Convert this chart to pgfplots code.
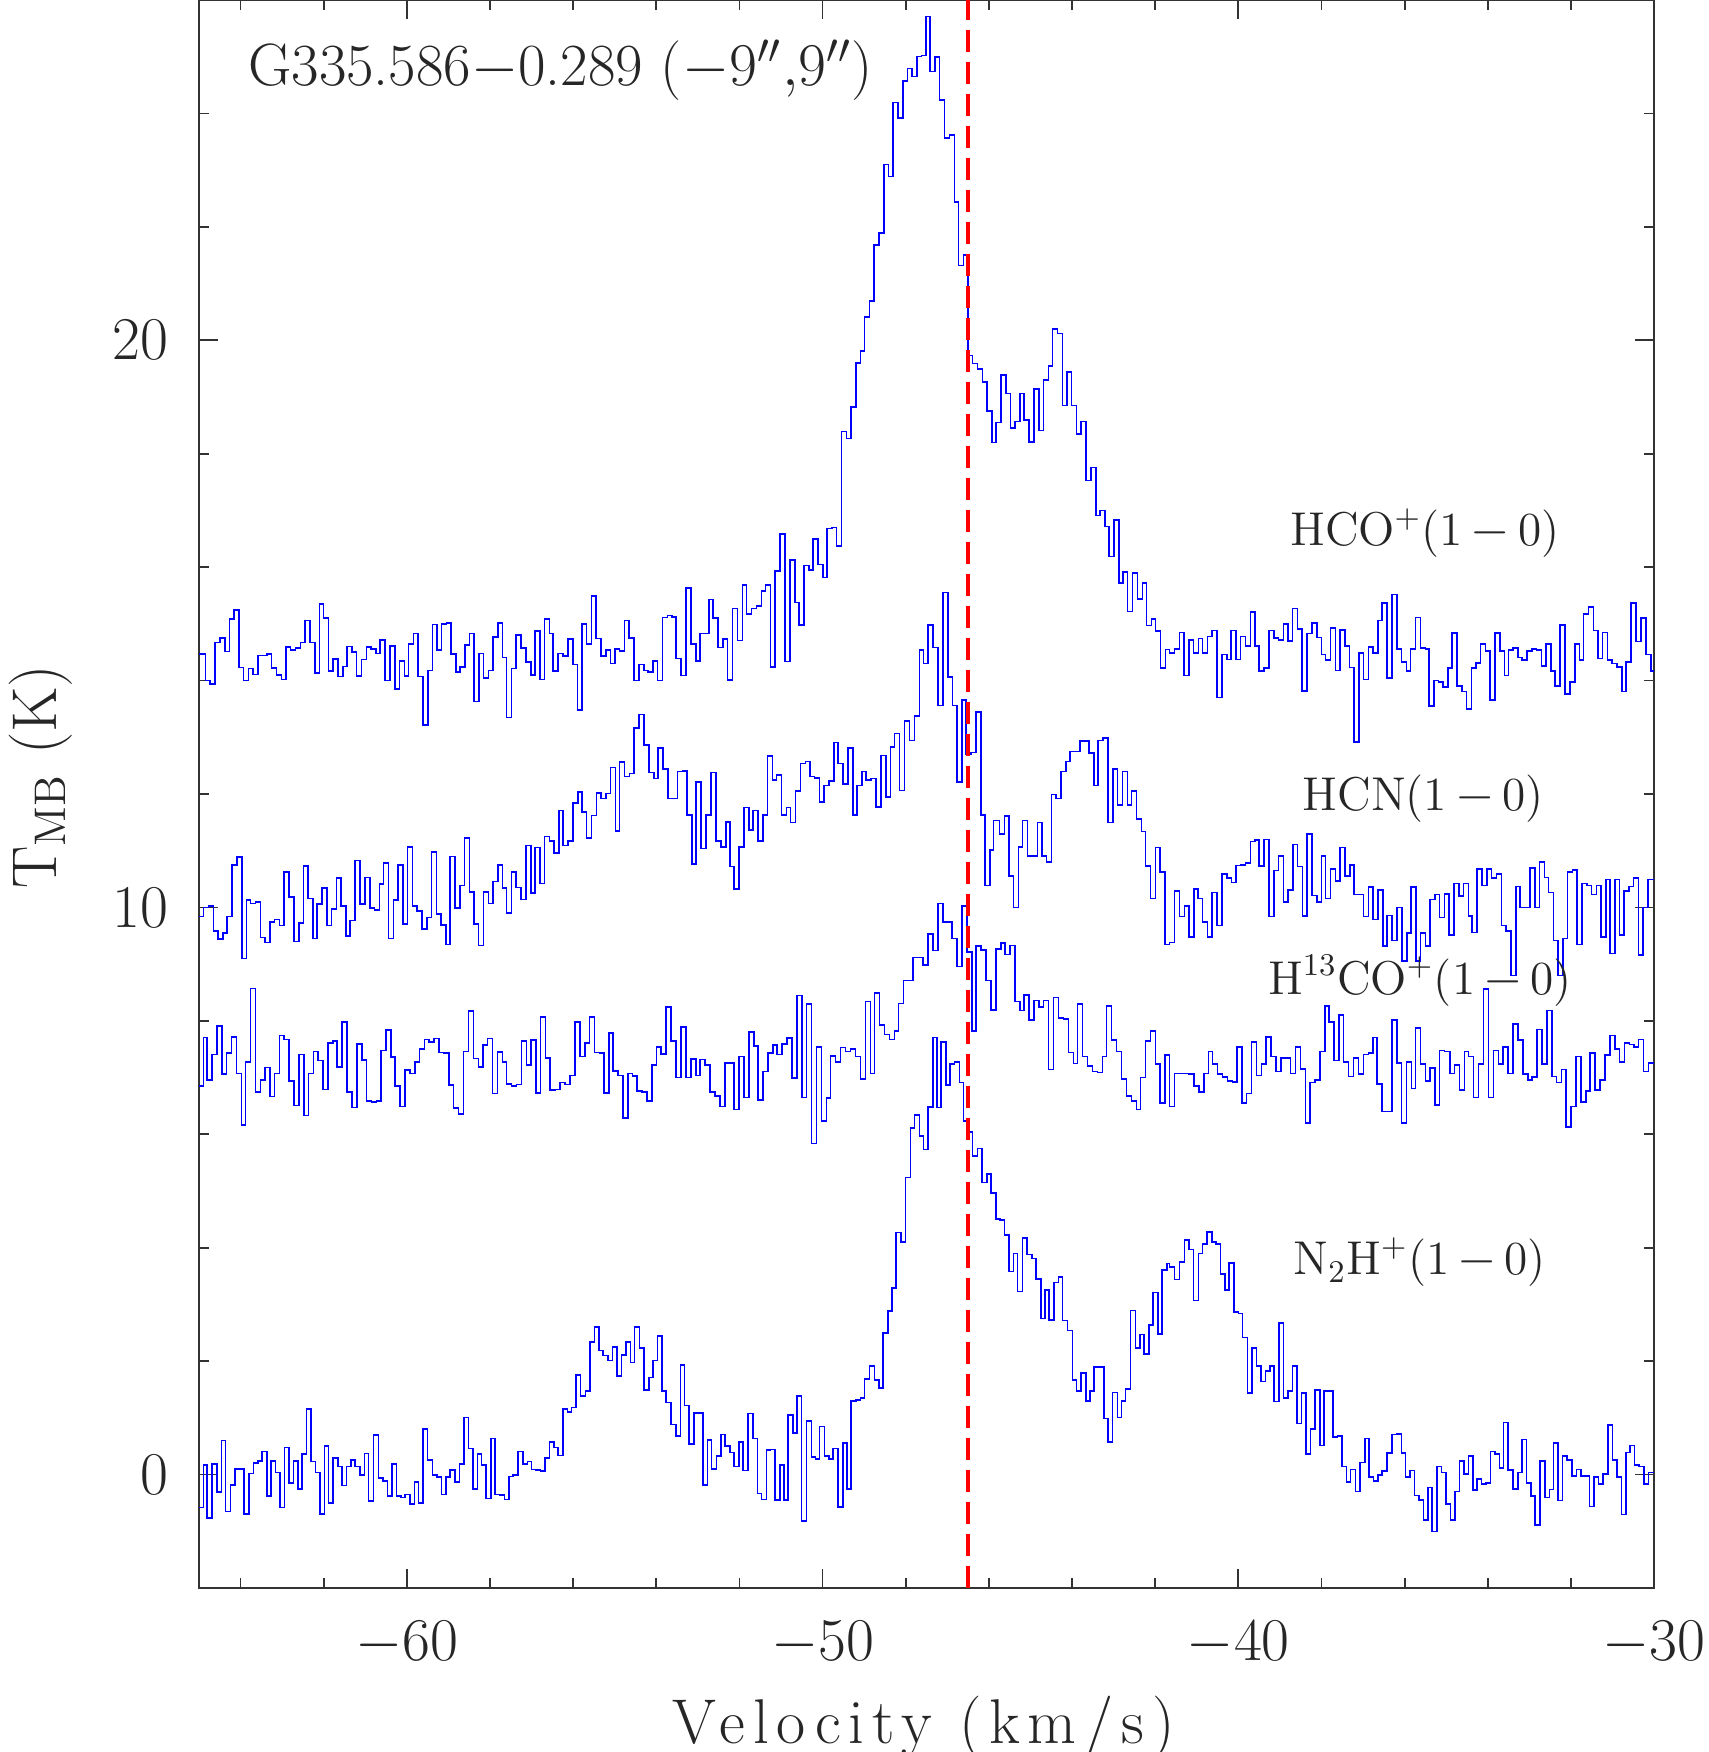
\documentclass[border=0pt]{standalone}
\usepackage{fontspec}
\usepackage{pgfplots}
\pgfplotsset{compat=1.18}
\newfontfamily\widefont[LetterSpace=12.5]{Latin Modern Roman}
\definecolor{specblue}{RGB}{0,0,255}
\begin{document}
\begin{tikzpicture}
\begin{axis}[
  scale only axis, width=14.556cm, height=15.885cm,
  xmin=-65, xmax=-30, ymin=-2, ymax=26,
  xtick={-60,-50,-40,-30}, minor xtick={-64,-62,...,-32},
  ytick={0,10,20}, minor ytick={-2,0,...,26},
  tick pos=both, tick align=inside,
  major tick length=0.19cm, minor tick length=0.1cm,
  axis line style={black!80, line width=0.6pt},
  every tick/.style={black!80, line width=0.5pt},
  tick label style={font=\fontsize{17}{20}\selectfont, text=black!85},
  xticklabel shift=0.21cm, yticklabel shift=0.185cm,
  xlabel={{\widefont Velocity (km/s)}},
  ylabel={T$_{\mathrm{MB}}$ (K)},
  xlabel style={at={(axis description cs:0.498,-0.0976)}, anchor=base, font=\fontsize{18}{21}\selectfont, text=black!85},
  ylabel style={at={(axis description cs:-0.0982,0.511)}, anchor=base, font=\fontsize{18}{21}\selectfont, text=black!85},
]
% HCO+(1-0)
\addplot[const plot, specblue, line width=0.45pt] table {
v T
-65.00 14.47
-64.84 14.00
-64.73 13.94
-64.61 14.67
-64.49 14.75
-64.38 14.51
-64.26 15.09
-64.16 15.24
-64.04 14.23
-63.93 14.00
-63.81 14.21
-63.70 14.11
-63.58 14.44
-63.36 14.47
-63.25 14.22
-63.13 14.10
-63.01 14.02
-62.90 14.59
-62.80 14.54
-62.68 14.57
-62.56 14.67
-62.45 15.06
-62.33 14.67
-62.21 14.13
-62.10 15.35
-62.00 15.10
-61.88 14.17
-61.77 14.38
-61.65 14.07
-61.53 14.25
-61.44 14.60
-61.32 14.50
-61.21 14.08
-61.09 14.37
-60.97 14.59
-60.86 14.56
-60.74 14.48
-60.64 14.72
-60.52 14.00
-60.41 14.61
-60.29 13.85
-60.18 14.35
-60.06 14.08
-59.96 14.64
-59.84 14.83
-59.73 14.07
-59.61 13.22
-59.49 14.18
-59.38 14.99
-59.28 14.54
-59.17 15.00
-59.05 15.02
-58.94 14.47
-58.82 14.15
-58.72 14.24
-58.60 14.63
-58.49 14.83
-58.38 13.63
-58.26 14.48
-58.16 14.05
-58.04 14.18
-57.93 14.77
-57.81 15.02
-57.70 14.41
-57.60 13.35
-57.48 14.21
-57.37 14.80
-57.25 14.57
-57.14 14.33
-57.02 14.10
-56.92 14.87
-56.80 14.02
-56.69 15.09
-56.57 14.83
-56.48 14.17
-56.36 14.48
-56.24 14.43
-56.12 14.73
-56.01 14.28
-55.90 13.48
-55.78 15.00
-55.68 14.65
-55.56 15.49
-55.45 14.74
-55.33 14.43
-55.21 14.54
-55.10 14.30
-55.00 14.56
-54.88 14.52
-54.76 15.06
-54.65 14.75
-54.53 14.00
-54.42 14.28
-54.30 14.18
-54.20 14.15
-54.08 14.35
-53.97 14.00
-53.85 15.11
-53.73 15.15
-53.62 15.12
-53.52 14.39
-53.40 14.09
-53.28 15.63
-53.17 14.65
-53.05 14.35
-52.95 14.83
-52.73 15.43
-52.63 15.10
-52.51 14.58
-52.39 14.73
-52.29 14.01
-52.17 15.27
-52.05 14.71
-51.93 15.69
-51.83 15.17
-51.71 15.27
-51.59 15.31
-51.47 15.58
-51.37 15.69
-51.25 14.24
-51.15 15.93
-51.03 16.58
-50.91 14.34
-50.79 16.13
-50.67 15.38
-50.57 14.98
-50.45 16.03
-50.33 15.95
-50.23 16.50
-50.11 16.05
-49.99 15.82
-49.89 16.68
-49.77 16.70
-49.67 16.37
-49.55 18.39
-49.43 18.27
-49.31 18.82
-49.19 19.60
-49.09 19.81
-48.99 20.41
-48.87 20.69
-48.76 21.68
-48.64 21.89
-48.53 23.10
-48.41 22.89
-48.31 24.19
-48.19 23.92
-48.07 24.57
-47.96 24.79
-47.85 24.65
-47.73 25.00
-47.62 25.02
-47.51 25.71
-47.41 24.74
-47.30 24.99
-47.19 24.24
-47.07 23.57
-46.95 23.62
-46.83 22.44
-46.73 21.32
-46.61 21.50
-46.50 19.73
-46.39 19.59
-46.27 19.49
-46.15 19.26
-46.05 18.75
-45.93 18.20
-45.83 18.55
-45.71 19.39
-45.59 19.06
-45.48 18.45
-45.37 18.57
-45.25 19.06
-45.15 18.59
-45.03 18.21
-44.91 19.14
-44.79 18.41
-44.69 19.30
-44.57 19.55
-44.47 20.20
-44.35 20.12
-44.23 18.85
-44.12 19.44
-44.01 18.85
-43.89 18.35
-43.79 18.57
-43.67 17.53
-43.55 17.76
-43.43 16.91
-43.33 17.00
-43.21 16.72
-43.11 16.19
-42.99 16.83
-42.87 15.72
-42.77 15.91
-42.67 15.22
-42.55 15.90
-42.43 15.44
-42.31 15.72
-42.21 14.97
-42.09 15.09
-41.99 14.87
-41.87 14.22
-41.75 14.55
-41.66 14.49
-41.54 14.56
-41.42 14.85
-41.31 14.09
-41.19 14.72
-41.08 14.49
-40.96 14.74
-40.86 14.49
-40.74 14.78
-40.63 14.88
-40.51 13.70
-40.39 14.46
-40.28 14.37
-40.18 14.88
-40.06 14.37
-39.95 14.78
-39.83 14.61
-39.71 15.21
-39.60 14.61
-39.50 14.17
-39.38 14.22
-39.26 14.88
-39.15 14.75
-39.03 14.72
-38.91 15.00
-38.80 14.70
-38.70 15.27
-38.58 14.91
-38.47 13.82
-38.35 14.83
-38.23 15.02
-38.11 14.76
-38.00 14.46
-37.90 14.36
-37.78 14.93
-37.66 14.18
-37.55 14.89
-37.43 14.61
-37.33 14.23
-37.22 12.92
-37.10 14.49
-36.99 14.02
-36.87 14.59
-36.76 14.49
-36.64 15.06
-36.54 15.37
-36.42 14.05
-36.31 15.52
-36.19 14.56
-36.08 14.33
-35.96 14.17
-35.86 14.56
-35.74 15.11
-35.62 14.57
-35.50 14.56
-35.42 13.55
-35.30 14.00
-35.19 13.98
-35.08 13.89
-34.96 14.22
-34.86 14.84
-34.74 13.90
-34.62 13.81
-34.51 13.50
-34.39 14.22
-34.28 14.31
-34.18 14.64
-34.06 14.52
-33.95 13.66
-33.83 14.84
-33.71 14.52
-33.60 14.09
-33.50 14.54
-33.39 14.57
-33.27 14.41
-33.18 14.36
-33.06 14.52
-32.94 14.56
-32.83 14.54
-32.71 14.26
-32.60 14.65
-32.48 14.17
-32.38 13.90
-32.26 14.98
-32.14 13.76
-32.03 13.97
-31.91 14.65
-31.80 14.36
-31.70 15.17
-31.58 15.30
-31.46 14.88
-31.35 14.39
-31.24 14.85
-31.12 14.36
-31.02 14.30
-30.90 14.24
-30.78 13.81
-30.67 14.33
-30.55 15.37
-30.44 14.69
-30.32 15.10
-30.20 14.46
-30.08 14.17
-30.00 14.17
};
% HCN(1-0)
\addplot[const plot, specblue, line width=0.45pt] table {
v T
-65.00 9.84
-64.89 10.00
-64.77 10.03
-64.65 9.58
-64.54 9.44
-64.42 9.55
-64.32 9.84
-64.20 10.75
-64.09 10.89
-63.97 9.10
-63.86 10.13
-63.76 10.07
-63.64 10.10
-63.52 9.47
-63.41 9.38
-63.29 9.74
-63.18 9.79
-63.06 9.68
-62.96 10.62
-62.84 10.18
-62.72 9.40
-62.60 9.73
-62.49 10.73
-62.38 10.16
-62.26 9.45
-62.16 10.06
-62.04 10.34
-61.92 9.68
-61.81 9.97
-61.69 10.52
-61.58 10.03
-61.46 9.50
-61.36 9.77
-61.24 10.83
-61.12 10.06
-61.01 10.53
-60.89 9.99
-60.78 9.95
-60.66 10.41
-60.56 10.78
-60.44 9.45
-60.32 10.13
-60.21 10.75
-60.09 9.71
-59.98 11.07
-59.86 10.03
-59.76 9.94
-59.64 9.62
-59.52 9.82
-59.41 10.98
-59.29 9.88
-59.18 9.69
-59.06 9.35
-58.96 10.90
-58.84 9.99
-58.72 10.39
-58.61 11.22
-58.49 10.27
-58.38 9.71
-58.28 9.33
-58.16 10.27
-58.04 10.07
-57.93 10.46
-57.81 10.75
-57.70 10.34
-57.60 9.90
-57.48 10.62
-57.37 10.35
-57.25 10.14
-57.14 11.09
-57.02 10.25
-56.92 11.06
-56.80 10.42
-56.69 11.25
-56.57 11.17
-56.46 10.96
-56.34 11.71
-56.24 11.09
-56.12 11.17
-56.01 11.84
-55.89 12.04
-55.78 11.68
-55.68 11.22
-55.56 11.62
-55.44 12.02
-55.33 11.92
-55.21 12.01
-55.10 12.47
-54.98 11.35
-54.88 12.56
-54.76 12.31
-54.64 12.36
-54.53 13.16
-54.41 13.40
-54.29 12.86
-54.18 12.38
-54.06 12.27
-53.96 12.81
-53.84 12.44
-53.72 11.92
-53.49 12.40
-53.37 12.41
-53.26 11.63
-53.14 10.77
-53.05 12.21
-52.93 11.04
-52.81 11.63
-52.69 12.38
-52.57 11.17
-52.45 11.07
-52.33 11.51
-52.23 10.72
-52.13 10.33
-52.01 11.07
-51.89 11.76
-51.77 11.37
-51.67 11.71
-51.55 11.17
-51.43 11.63
-51.33 12.67
-51.21 12.25
-51.11 12.34
-50.99 11.63
-50.87 11.76
-50.77 11.50
-50.65 12.05
-50.53 12.54
-50.41 12.57
-50.31 12.31
-50.19 12.28
-50.07 11.86
-49.97 12.15
-49.85 12.23
-49.73 12.91
-49.63 12.54
-49.51 12.18
-49.39 12.81
-49.27 11.63
-49.17 12.15
-49.05 12.40
-48.95 12.25
-48.83 12.27
-48.71 11.77
-48.59 12.68
-48.47 11.95
-48.37 12.83
-48.27 13.07
-48.15 12.06
-48.03 13.29
-47.91 12.94
-47.79 13.38
-47.67 14.54
-47.57 14.30
-47.47 14.98
-47.35 14.58
-47.23 13.56
-47.11 15.55
-46.99 14.06
-46.88 13.56
-46.77 12.21
-46.65 13.66
-46.55 12.70
-46.43 12.73
-46.31 13.45
-46.19 11.63
-46.09 10.39
-45.97 11.01
-45.89 11.53
-45.75 11.30
-45.63 11.61
-45.51 10.55
-45.41 10.00
-45.29 11.07
-45.19 11.53
-45.07 10.91
-44.83 11.50
-44.73 10.91
-44.61 10.80
-44.49 11.99
-44.39 11.92
-44.27 12.40
-44.15 12.57
-44.05 12.75
-43.81 12.93
-43.59 12.72
-43.47 12.15
-43.37 12.94
-43.25 12.99
-43.13 11.50
-43.01 12.44
-42.91 11.81
-42.79 12.40
-42.67 11.81
-42.57 12.05
-42.45 11.56
-42.33 11.34
-42.23 10.73
-42.11 10.16
-41.99 11.06
-41.89 10.62
-41.77 9.35
-41.66 9.38
-41.54 10.29
-41.42 9.84
-41.30 10.03
-41.19 9.48
-41.07 10.33
-40.97 10.16
-40.86 9.74
-40.74 9.48
-40.63 10.26
-40.51 9.68
-40.40 10.59
-40.28 10.52
-40.17 10.44
-40.06 10.74
-39.94 10.75
-39.83 10.78
-39.71 11.16
-39.60 11.19
-39.50 10.73
-39.38 11.20
-39.26 9.84
-39.15 10.65
-39.03 10.91
-38.91 10.10
-38.80 10.31
-38.68 11.11
-38.58 10.72
-38.46 9.85
-38.35 11.30
-38.23 10.21
-38.11 10.10
-38.00 10.91
-37.90 10.16
-37.78 10.68
-37.66 10.47
-37.56 11.06
-37.44 10.55
-37.32 10.75
-37.22 10.23
-36.99 9.84
-36.87 10.36
-36.76 9.79
-36.64 10.31
-36.52 9.32
-36.42 9.86
-36.30 9.42
-36.18 10.00
-36.06 9.06
-35.95 9.55
-35.85 10.36
-35.73 9.06
-35.62 9.55
-35.50 9.32
-35.39 10.14
-35.27 10.23
-35.16 9.82
-35.04 10.24
-34.94 9.51
-34.82 10.42
-34.70 10.20
-34.59 10.42
-34.47 9.85
-34.38 9.56
-34.26 10.68
-34.14 10.39
-34.02 10.68
-33.91 10.52
-33.79 10.59
-33.67 9.68
-33.56 9.58
-33.44 8.80
-33.32 10.37
-33.22 10.00
-32.98 10.70
-32.87 10.00
-32.76 10.80
-32.64 10.53
-32.54 10.26
-32.42 9.42
-32.31 8.80
-32.19 9.45
-32.08 10.62
-31.96 10.66
-31.86 9.35
-31.73 10.42
-31.61 10.39
-31.51 10.23
-31.39 10.39
-31.28 9.48
-31.16 10.49
-31.06 9.19
-30.94 10.49
-30.83 9.51
-30.72 10.29
-30.60 10.37
-30.50 10.52
-30.38 9.16
-30.27 10.00
-30.15 10.49
-30.00 10.49
};
% H13CO+(1-0)
\addplot[const plot, specblue, line width=0.45pt] table {
v T
-65.00 6.85
-64.89 7.71
-64.80 6.96
-64.68 7.41
-64.57 7.91
-64.45 7.06
-64.34 7.43
-64.22 7.72
-64.10 7.07
-63.98 6.16
-63.88 7.27
-63.76 8.57
-63.64 6.75
-63.52 6.96
-63.41 7.18
-63.29 6.67
-63.18 7.07
-63.06 7.74
-62.96 7.67
-62.84 6.94
-62.72 6.51
-62.60 7.41
-62.48 6.33
-62.36 7.07
-62.24 7.46
-62.13 7.30
-62.01 6.79
-61.89 7.61
-61.78 7.65
-61.68 7.19
-61.56 7.98
-61.44 6.75
-61.32 6.47
-61.20 7.59
-61.08 7.31
-60.97 6.59
-60.85 6.57
-60.73 6.59
-60.62 7.48
-60.50 7.84
-60.38 7.36
-60.28 6.85
-60.16 6.49
-60.04 7.13
-59.93 7.07
-59.81 7.27
-59.70 7.50
-59.58 7.67
-59.46 7.63
-59.34 7.69
-59.22 7.44
-59.10 7.43
-58.98 6.87
-58.88 6.46
-58.76 6.36
-58.64 7.46
-58.52 8.17
-58.40 7.34
-58.28 7.19
-58.17 7.57
-58.06 7.69
-57.94 6.72
-57.82 7.45
-57.70 7.28
-57.60 6.89
-57.48 6.85
-57.36 6.88
-57.24 7.65
-57.12 7.22
-57.01 7.66
-56.89 6.73
-56.78 8.07
-56.66 7.35
-56.56 6.78
-56.44 6.79
-56.32 6.91
-56.20 6.88
-56.08 7.04
-55.96 7.98
-55.84 7.37
-55.72 7.61
-55.61 8.07
-55.49 7.44
-55.37 7.43
-55.26 6.73
-55.14 7.79
-55.04 7.12
-54.92 7.04
-54.80 6.29
-54.68 7.07
-54.57 7.03
-54.46 6.76
-54.34 6.75
-54.22 6.59
-54.10 7.22
-54.00 7.54
-53.88 7.42
-53.76 8.24
-53.64 7.65
-53.52 7.00
-53.40 7.89
-53.28 7.00
-53.17 7.33
-53.05 7.04
-52.95 7.32
-52.83 7.22
-52.71 6.75
-52.59 6.68
-52.47 6.49
-52.35 7.26
-52.13 6.44
-52.01 7.37
-51.89 6.65
-51.77 7.80
-51.65 7.56
-51.55 6.60
-51.43 7.11
-51.31 7.43
-51.19 7.57
-51.09 7.41
-50.97 7.59
-50.85 7.70
-50.73 6.99
-50.61 8.45
-50.49 6.65
-50.39 8.30
-50.27 5.84
-50.15 7.54
-50.03 6.23
-49.91 6.64
-49.81 7.38
-49.69 7.28
-49.57 7.53
-49.45 7.46
-49.33 7.50
-49.21 7.37
-49.09 6.98
-48.97 8.34
-48.85 7.07
-48.75 8.49
-48.63 7.93
-48.51 7.76
-48.39 7.67
-48.27 7.82
-48.17 8.31
-48.05 8.71
-47.83 9.12
-47.59 8.99
-47.47 9.53
-47.35 9.24
-47.23 10.07
-47.11 9.74
-46.89 9.45
-46.77 8.96
-46.65 10.03
-46.53 9.21
-46.41 7.82
-46.31 9.32
-46.19 9.25
-46.07 8.71
-45.95 8.19
-45.83 9.27
-45.71 9.37
-45.61 9.17
-45.49 9.33
-45.37 8.34
-45.25 8.18
-45.15 8.46
-45.03 8.02
-44.91 8.36
-44.79 8.24
-44.69 8.36
-44.57 7.14
-44.45 8.41
-44.33 8.05
-44.21 8.03
-44.09 7.44
-43.97 7.25
-43.87 8.30
-43.75 7.37
-43.63 7.20
-43.51 7.11
-43.39 7.09
-43.27 7.37
-43.17 8.26
-43.05 7.66
-42.93 7.46
-42.81 6.98
-42.69 6.68
-42.57 6.59
-42.45 6.44
-42.35 7.00
-42.23 7.65
-42.11 7.82
-41.99 7.24
-41.89 6.55
-41.77 7.40
-41.66 6.49
-41.54 7.07
-41.19 7.06
-41.07 6.85
-40.95 6.75
-40.83 7.07
-40.72 7.46
-40.62 7.24
-40.50 7.06
-40.38 7.01
-40.26 6.94
-40.14 6.92
-40.03 7.54
-39.91 6.55
-39.80 6.72
-39.68 7.63
-39.56 7.04
-39.44 7.24
-39.34 7.72
-39.22 7.37
-39.10 7.11
-38.98 7.35
-38.75 7.07
-38.63 7.54
-38.51 7.15
-38.39 6.20
-38.28 6.91
-38.16 6.96
-38.04 7.46
-37.92 8.26
-37.82 7.98
-37.70 7.30
-37.58 8.10
-37.47 7.27
-37.35 7.02
-37.23 7.35
-37.11 7.06
-36.99 7.41
-36.87 7.43
-36.76 7.71
-36.66 6.89
-36.54 6.40
-36.31 8.02
-36.19 7.26
-36.08 6.20
-35.96 7.28
-35.84 6.81
-35.74 7.87
-35.62 7.24
-35.50 6.94
-35.39 7.17
-35.27 6.52
-35.16 7.48
-35.04 7.46
-34.91 7.07
-34.80 7.22
-34.68 6.78
-34.56 7.46
-34.46 7.37
-34.34 6.65
-34.22 7.24
-34.10 8.56
-33.98 6.65
-33.86 7.48
-33.74 7.24
-33.63 7.54
-33.51 7.07
-33.39 7.95
-33.28 7.66
-33.16 7.06
-33.04 6.96
-32.94 7.01
-32.82 7.85
-32.70 7.24
-32.58 8.18
-32.46 7.02
-32.35 6.91
-32.23 7.14
-32.12 6.13
-32.00 6.49
-31.88 7.37
-31.76 6.57
-31.64 6.76
-31.54 7.43
-31.42 6.78
-31.30 6.96
-31.18 7.40
-31.06 7.74
-30.94 7.50
-30.83 7.28
-30.71 7.61
-30.59 7.58
-30.48 7.54
-30.38 7.67
-30.26 7.11
-30.14 7.26
-30.00 7.26
};
% N2H+(1-0)
\addplot[const plot, specblue, line width=0.45pt] table {
v T
-65.00 -0.58
-64.89 0.17
-64.80 -0.77
-64.68 0.19
-64.57 -0.31
-64.46 0.60
-64.36 -0.65
-64.24 -0.18
-64.13 0.10
-63.92 -0.69
-63.80 0.02
-63.69 0.20
-63.58 0.24
-63.48 0.41
-63.37 -0.38
-63.26 0.24
-63.16 0.04
-63.05 -0.58
-62.94 0.48
-62.84 -0.15
-62.73 0.24
-62.62 -0.25
-62.52 0.36
-62.41 1.16
-62.30 0.23
-62.20 0.04
-62.09 -0.69
-61.98 0.50
-61.88 -0.50
-61.77 0.29
-61.66 0.14
-61.56 -0.19
-61.45 0.14
-61.34 0.26
-61.24 0.14
-61.13 -0.01
-61.02 0.37
-60.92 -0.47
-60.80 0.70
-60.68 -0.06
-60.57 -0.11
-60.46 -0.38
-60.36 0.19
-60.25 -0.38
-60.14 -0.40
-60.04 -0.35
-59.93 -0.52
-59.82 -0.13
-59.72 -0.50
-59.61 0.80
-59.50 0.26
-59.38 -0.01
-59.28 -0.04
-59.17 -0.35
-59.06 -0.04
-58.96 0.08
-58.84 -0.13
-58.73 0.19
-58.62 1.01
-58.52 0.46
-58.41 -0.25
-58.30 0.36
-58.20 0.17
-58.09 -0.42
-57.98 0.64
-57.88 -0.35
-57.76 -0.36
-57.65 -0.44
-57.54 -0.03
-57.44 -0.01
-57.32 0.41
-57.21 0.19
-57.10 0.23
-57.00 0.09
-56.89 0.08
-56.78 0.06
-56.68 0.29
-56.57 0.58
-56.46 0.48
-56.36 0.34
-56.25 1.16
-56.14 1.10
-56.04 1.18
-55.93 1.76
-55.82 1.39
-55.70 1.47
-55.60 2.34
-55.49 2.60
-55.38 2.19
-55.28 2.10
-55.16 2.01
-55.05 2.25
-54.94 1.74
-54.84 2.11
-54.73 2.34
-54.62 1.98
-54.52 2.60
-54.40 2.23
-54.29 1.49
-54.18 1.71
-54.08 2.01
-53.97 2.44
-53.86 1.47
-53.76 1.27
-53.64 0.88
-53.53 0.68
-53.42 1.93
-53.32 1.22
-53.21 0.54
-53.10 1.09
-52.87 -0.18
-52.77 0.61
-52.67 0.10
-52.55 0.33
-52.45 0.71
-52.35 0.50
-52.23 0.39
-52.13 0.14
-52.01 0.58
-51.91 0.07
-51.79 1.08
-51.67 0.64
-51.57 -0.33
-51.47 -0.44
-51.35 0.43
-51.25 0.44
-51.15 -0.45
-51.03 0.17
-50.93 -0.45
-50.83 1.05
-50.71 0.73
-50.61 1.39
-50.51 -0.82
-50.39 0.95
-50.27 0.31
-50.17 0.28
-50.07 0.85
-49.95 0.33
-49.85 0.28
-49.75 0.46
-49.63 -0.57
-49.51 0.56
-49.41 -0.25
-49.31 1.30
-49.19 1.32
-49.09 1.35
-48.99 1.69
-48.87 1.92
-48.75 1.67
-48.65 1.53
-48.55 2.50
-48.43 2.88
-48.33 3.29
-48.23 4.27
-48.11 4.10
-48.01 5.24
-47.89 6.11
-47.79 6.34
-47.67 5.97
-47.57 5.73
-47.47 6.48
-47.35 7.71
-47.25 6.47
-47.15 7.63
-47.03 6.87
-46.93 7.24
-46.83 7.27
-46.71 6.91
-46.61 6.23
-46.51 6.04
-46.39 5.62
-46.27 5.75
-46.17 5.15
-46.05 5.30
-45.95 4.97
-45.83 4.51
-45.73 4.49
-45.63 4.22
-45.51 3.58
-45.41 3.90
-45.31 3.23
-45.19 4.17
-45.09 3.88
-44.97 3.81
-44.87 3.45
-44.75 2.75
-44.65 3.26
-44.55 2.73
-44.43 3.39
-44.33 3.48
-44.23 2.72
-44.11 2.54
-43.99 1.67
-43.89 1.47
-43.79 1.79
-43.67 1.30
-43.57 1.47
-43.47 1.90
-43.23 0.99
-43.13 0.58
-43.03 1.45
-42.91 1.01
-42.81 1.30
-42.71 1.51
-42.59 2.89
-42.47 2.23
-42.37 2.47
-42.27 2.13
-42.15 2.64
-42.05 3.21
-41.93 2.48
-41.83 3.61
-41.71 3.72
-41.66 3.66
-41.54 3.44
-41.42 3.75
-41.30 4.14
-41.19 3.97
-41.08 3.07
-40.96 3.90
-40.86 4.07
-40.75 4.28
-40.64 4.10
-40.54 4.07
-40.43 3.54
-40.32 3.26
-40.22 3.73
-40.11 2.87
-40.00 2.84
-39.90 2.42
-39.78 1.44
-39.67 2.23
-39.56 1.92
-39.46 1.64
-39.35 1.83
-39.24 1.91
-39.14 1.29
-39.02 2.67
-38.91 1.35
-38.80 1.47
-38.70 1.92
-38.59 0.90
-38.48 1.44
-38.38 0.36
-38.27 0.80
-38.15 1.49
-38.04 0.51
-37.94 1.47
-37.72 0.66
-37.62 0.68
-37.51 0.14
-37.40 -0.13
-37.30 0.09
-37.18 -0.30
-37.07 0.21
-36.96 0.64
-36.86 -0.04
-36.75 -0.11
-36.64 -0.01
-36.54 0.06
-36.42 0.38
-36.31 0.71
-36.20 0.72
-36.08 0.38
-35.98 -0.04
-35.87 0.07
-35.76 -0.37
-35.66 -0.45
-35.55 -0.80
-35.44 -0.23
-35.34 -1.00
-35.22 0.14
-35.11 0.04
-35.00 -0.52
-34.90 -0.80
-34.79 -0.30
-34.68 0.24
-34.58 0.01
-34.47 0.33
-34.36 -0.27
-34.26 -0.08
-34.15 -0.17
-34.04 -0.15
-33.94 0.41
-33.83 0.36
-33.72 0.12
-33.62 0.92
-33.51 0.08
-33.40 -0.25
-33.28 0.04
-33.18 0.62
-33.07 -0.15
-32.96 -0.38
-32.86 -0.89
-32.75 0.24
-32.63 -0.40
-32.52 -0.26
-32.42 0.56
-32.31 -0.46
-32.20 0.33
-32.10 0.26
-31.98 -0.02
-31.87 0.09
-31.76 -0.02
-31.55 -0.56
-31.44 -0.04
-31.34 -0.17
-31.23 0.01
-31.11 0.87
-31.00 0.26
-30.90 -0.04
-30.79 -0.70
-30.68 0.39
-30.58 0.51
-30.47 0.17
-30.36 0.14
-30.24 -0.17
-30.14 0.04
-30.00 0.04
};
\addplot[red, line width=1pt, dash pattern=on 0.22cm off 0.1cm] coordinates {(-46.5,-2) (-46.5,26)};
\node[inner sep=0pt, anchor=base west, font=\fontsize{17}{19}\selectfont, text=black!85] at (axis cs:-63.83,24.5) {G335.586$-$0.289 ($-9''{,}9''$)};
\node[inner sep=0pt, anchor=base west, font=\fontsize{13.5}{16}\selectfont, text=black!85] at (axis cs:-38.77,16.38) {HCO$^+$(1\,$-$\,0)};
\node[inner sep=0pt, anchor=base west, font=\fontsize{13.5}{16}\selectfont, text=black!85] at (axis cs:-38.47,11.71) {HCN(1\,$-$\,0)};
\node[inner sep=0pt, anchor=base west, font=\fontsize{13.5}{16}\selectfont, text=black!85] at (axis cs:-39.30,8.47) {H$^{13}$CO$^+$(1\,$-$\,0)};
\node[inner sep=0pt, anchor=base west, font=\fontsize{13.5}{16}\selectfont, text=black!85] at (axis cs:-38.69,3.52) {N$_2$H$^+$(1\,$-$\,0)};
\end{axis}
\pgfresetboundingbox
\path[use as bounding box] ([xshift=-1.99cm,yshift=-1.64cm]current axis.south west) rectangle ([xshift=0.54cm]current axis.north east);
\end{tikzpicture}
\end{document}
